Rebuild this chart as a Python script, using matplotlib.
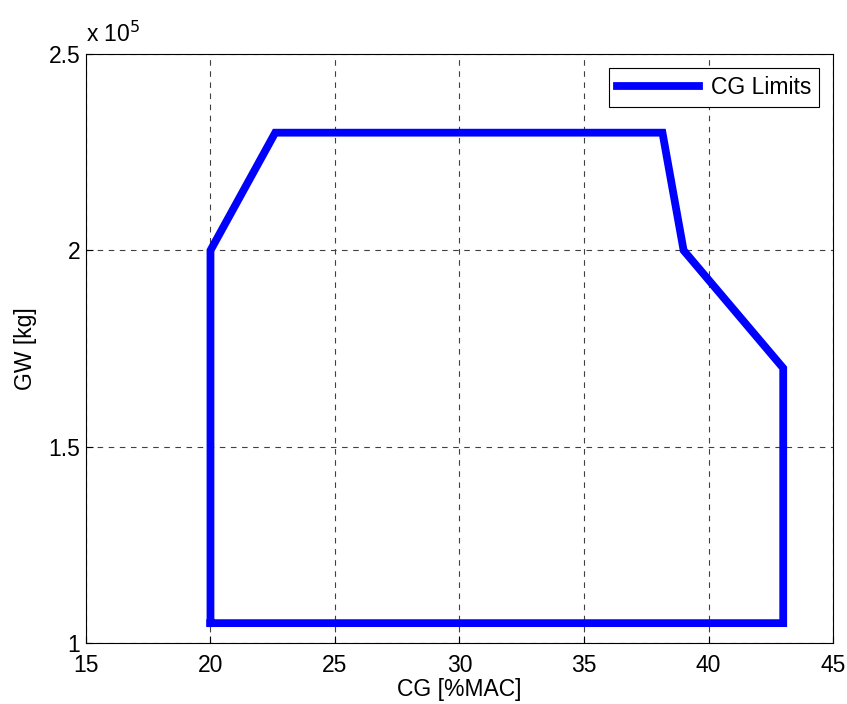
import matplotlib
matplotlib.use("Agg")
import matplotlib.pyplot as plt
from matplotlib.ticker import FuncFormatter

# CG envelope corners (closed polygon)
cg_pct_mac = [20.0, 20.0, 22.6, 38.15, 39.0, 43.0, 43.0, 20.0]
gw_kg = [1.05e5, 2.0e5, 2.3e5, 2.3e5, 2.0e5, 1.7e5, 1.05e5, 1.05e5]

x_ticks = [15, 20, 25, 30, 35, 40, 45]
y_ticks = [1.0e5, 1.5e5, 2.0e5, 2.5e5]

plt.rcParams["font.family"] = ["Liberation Sans", "DejaVu Sans"]
plt.rcParams["font.size"] = 16.5

fig = plt.figure(figsize=(8.47, 7.04), dpi=100)
ax = fig.add_axes([0.1015, 0.087, 0.882, 0.836])

ax.plot(cg_pct_mac, gw_kg, color="#0000ff", lw=5.6, label="CG Limits",
        solid_joinstyle="miter")

ax.set_xlim(15, 45)
ax.set_ylim(1.0e5, 2.5e5)
ax.set_xticks(x_ticks)
ax.set_yticks(y_ticks)
ax.yaxis.set_major_formatter(FuncFormatter(lambda v, _: f"{v / 1e5:g}"))
ax.tick_params(direction="in", length=5, width=0.8, pad=4, labelsize=16.5)
ax.tick_params(axis="x", pad=8)

ax.grid(True, linestyle=(0, (5, 5)), color="#404040", lw=0.8)
for s in ax.spines.values():
    s.set_linewidth(0.8)

ax.text(0.0, 1.012, r"x 10$^{5}$", transform=ax.transAxes, fontsize=16.5,
        ha="left", va="bottom")

ax.set_xlabel("CG [%MAC]", fontsize=16.5, labelpad=1)
ax.set_ylabel("GW [kg]", fontsize=16.5, labelpad=8)

leg = ax.legend(loc="upper right", fontsize=16.5, fancybox=False, framealpha=1,
                edgecolor="black", borderaxespad=0.6, handlelength=3.6,
                handletextpad=0.5, borderpad=0.35)
leg.get_frame().set_linewidth(0.8)

fig.savefig("out.png", dpi=100)
